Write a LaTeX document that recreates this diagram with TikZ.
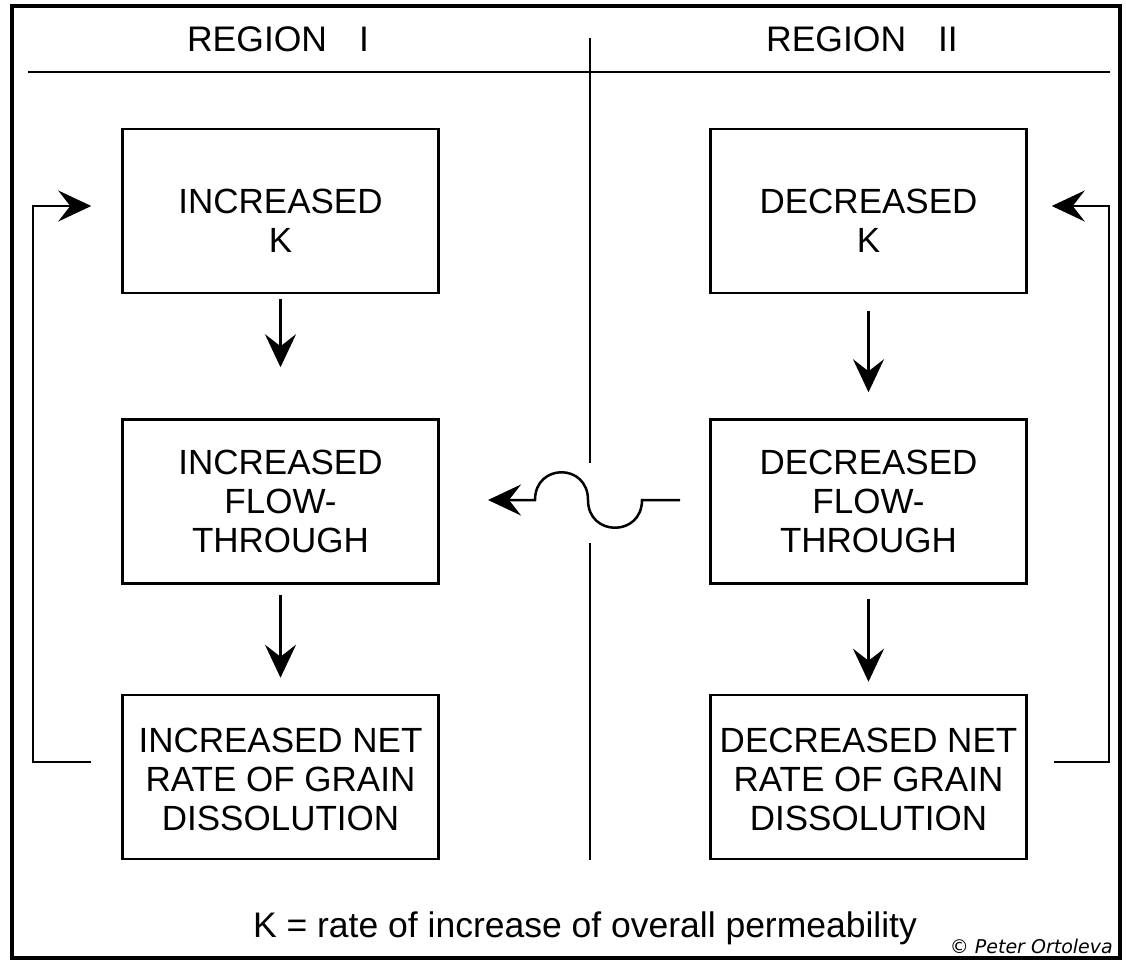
\documentclass[tikz,border=0pt]{standalone}
\usepackage{fontspec}
\setmainfont{Liberation Sans}
\newfontfamily\copyfont{DejaVu Sans}
\usetikzlibrary{arrows.meta}
\tikzset{
  box/.style={draw, line width=2.5pt, minimum width=316pt, minimum height=164pt, inner sep=0pt},
  boxtext/.style={align=center, inner sep=0pt, font=\fontsize{35}{39}\selectfont},
  conn/.style={line width=2.5pt, -{Stealth[length=33pt,width=31pt,inset=12pt]}},
  plain/.style={line width=2.5pt},
  lbl/.style={font=\fontsize{35.5}{39}\selectfont, inner sep=0pt}
}
\begin{document}
\begin{tikzpicture}[x=1pt,y=-1pt]
\useasboundingbox (0,0) rectangle (1126,960);
\fill[white] (0,0) rectangle (1126,960);
% frame
\draw[line width=4.5pt] (12,6) rectangle (1120,958);
% header
\node[lbl, anchor=base] (r1) at (278,52) {REGION\hspace{0.9em}I};
\node[lbl, anchor=base] (r2) at (862,52) {REGION\hspace{0.9em}II};
\draw[plain] (28,72) coordinate (hl) -- (1110,72) coordinate (hr);
\draw[plain] (590,38) coordinate (vt) -- (590,463) coordinate (vm1);
\draw[plain] (590,543) coordinate (vm2) -- (590,860) coordinate (vb);
% boxes
\node[box] (L1) at (280.5,211) {};
\node[box] (L2) at (280.5,501.5) {};
\node[box] (L3) at (280.5,777) {};
\node[box] (R1) at (868.5,211) {};
\node[box] (R2) at (868.5,501.5) {};
\node[box] (R3) at (868.5,777) {};
\node[boxtext] (L1t) at ([yshift=-10pt]L1.center) {INCREASED\\K};
\node[boxtext] (L2t) at (L2.center) {INCREASED\\FLOW-\\THROUGH};
\node[boxtext] (L3t) at ([yshift=-2pt]L3.center) {INCREASED NET\\RATE OF GRAIN\\DISSOLUTION};
\node[boxtext] (R1t) at ([yshift=-10pt]R1.center) {DECREASED\\K};
\node[boxtext] (R2t) at (R2.center) {DECREASED\\FLOW-\\THROUGH};
\node[boxtext] (R3t) at ([yshift=-2pt]R3.center) {DECREASED NET\\RATE OF GRAIN\\DISSOLUTION};
% vertical arrows
\draw[conn] ([yshift=-5pt]L1.south) -- ([yshift=-73pt]L1.south);
\draw[conn] ([yshift=-10pt]L2.south) -- ([yshift=-93pt]L2.south);
\draw[conn] ([yshift=-17pt]R1.south) -- ([yshift=-98pt]R1.south);
\draw[conn] ([yshift=-14pt]R2.south) -- ([yshift=-97pt]R2.south);
% feedback loops
\coordinate (lt) at (33,206);
\coordinate (lb) at (33,762);
\draw[conn] ([xshift=-30pt]L3.west |- lb) -- (lb) -- (lt) -- ([xshift=-30pt]L1.west |- lt);
\coordinate (rt) at (1109,206);
\coordinate (rb) at (1109,762);
\draw[conn] ([xshift=26pt]R3.east |- rb) -- (rb) -- (rt) -- ([xshift=24pt]R1.east |- rt);
% wavy arrow
\coordinate (ws) at (680,500);
\coordinate (we) at (488,500);
\draw[conn] (ws) -- (642,500) .. controls (642,537) and (588,537) .. (588,500)
  .. controls (588,463) and (535,463) .. (535,500) -- (we);
% footer
\node[lbl, anchor=base] (foot) at (585,937) {K = rate of increase of overall permeability};
\node[anchor=base east, inner sep=0pt, font=\copyfont\itshape\fontsize{19}{21}\selectfont] (copy) at (1113,953) {© Peter Ortoleva};
\end{tikzpicture}
\end{document}
